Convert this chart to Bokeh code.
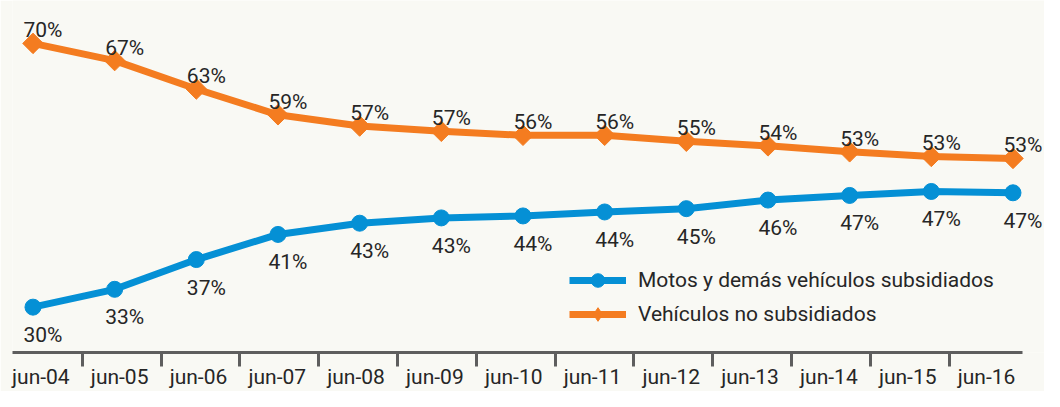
import math
from bokeh.plotting import figure
from bokeh.models import (ColumnDataSource, Range1d, LinearAxis, FixedTicker,
                          Legend, LegendItem)
from bokeh.core.properties import value
from bokeh.embed import file_html
from bokeh.resources import INLINE

# ---- data ----
months = ["jun-04", "jun-05", "jun-06", "jun-07", "jun-08", "jun-09", "jun-10",
          "jun-11", "jun-12", "jun-13", "jun-14", "jun-15", "jun-16"]
no_subsidiados = [69.9, 67.3, 63.0, 59.1, 57.4, 56.6, 56.0, 56.0, 55.1, 54.4, 53.5, 52.8, 52.5]
subsidiados = [30.0, 32.7, 37.2, 41.0, 42.7, 43.5, 43.8, 44.4, 44.9, 46.2, 46.9, 47.5, 47.3]
labels_no_sub = ["70%", "67%", "63%", "59%", "57%", "57%", "56%", "56%", "55%", "54%", "53%", "53%", "53%"]
labels_sub = ["30%", "33%", "37%", "41%", "43%", "43%", "44%", "44%", "45%", "46%", "47%", "47%", "47%"]
name_sub = "Motos y demás vehículos subsidiados"
name_no_sub = "Vehículos no subsidiados"

ORANGE = "#F47C20"
BLUE = "#0590D5"
TEXT = "#262626"
BG = "#F9F9F4"
FONT = "Roboto"

idx = list(range(len(months)))
src_o = ColumnDataSource(dict(x=idx, y=no_subsidiados, lab=labels_no_sub))
src_b = ColumnDataSource(dict(x=idx, y=subsidiados, lab=labels_sub))

p = figure(width=1044, height=391, output_backend="svg", toolbar_location=None,
           x_range=Range1d(-0.251, 12.386), y_range=Range1d(23.14, 76.39),
           x_axis_location=None, y_axis_location=None,
           min_border_left=12, min_border_right=0, min_border_top=0, min_border_bottom=0)
p.background_fill_color = BG
p.border_fill_color = BG
p.outline_line_color = None
p.xgrid.visible = False
p.ygrid.visible = False

# category axis (labels centred, separators between)
n = len(months)
p.extra_x_ranges = {"ax": Range1d(-0.360, 12.736)}
ax = LinearAxis(x_range_name="ax",
                ticker=FixedTicker(ticks=idx, minor_ticks=[i + 0.525 for i in range(n - 1)]),
                major_label_overrides={i: m for i, m in enumerate(months)},
                bounds=(-0.360, 12.457))
ax.axis_line_color = "#5E5E5E"
ax.axis_line_width = 3
ax.major_tick_line_color = None
ax.major_tick_out = 13
ax.major_tick_in = 0
ax.minor_tick_line_color = "#5E5E5E"
ax.minor_tick_line_width = 3
ax.minor_tick_out = 14
ax.minor_tick_in = 0
ax.major_label_standoff = -2
ax.major_label_text_font = FONT
ax.major_label_text_font_size = "21px"
ax.major_label_text_color = TEXT
p.add_layout(ax, "below")

# lines + markers
lb = p.line("x", "y", source=src_b, line_color=BLUE, line_width=7)
sb = p.scatter("x", "y", source=src_b, marker="circle", size=16,
               fill_color=BLUE, line_color=BLUE)
lo = p.line("x", "y", source=src_o, line_color=ORANGE, line_width=7)
so = p.scatter("x", "y", source=src_o, marker="square", size=14.5, angle=math.pi / 4,
               fill_color=ORANGE, line_color=ORANGE)
# legend-only diamond (NaN position, never drawn in plot)
dummy = p.scatter(x=[float("nan")], y=[float("nan")], marker="diamond", size=14,
                  fill_color=ORANGE, line_color=ORANGE)

# data labels
p.text("x", "y", text="lab", source=src_o, x_offset=10, y_offset=-13,
       text_align="center", text_baseline="alphabetic",
       text_font=value(FONT), text_font_size="21px", text_color=TEXT)
p.text("x", "y", text="lab", source=src_b, x_offset=10, y_offset=28,
       text_align="center", text_baseline="alphabetic",
       text_font=value(FONT), text_font_size="21px", text_color=TEXT)

legend = Legend(items=[LegendItem(label=name_sub, renderers=[lb, sb]),
                       LegendItem(label=name_no_sub, renderers=[lo, dummy])],
                location=(557, 21), orientation="vertical")
legend.glyph_width = 57
legend.glyph_height = 34
legend.spacing = 0
legend.padding = 0
legend.margin = 0
legend.label_standoff = 12
legend.label_text_font = FONT
legend.label_text_font_size = "21px"
legend.label_text_color = TEXT
legend.border_line_color = None
legend.background_fill_alpha = 0
p.add_layout(legend, "center")

open("out.html", "w").write(file_html(p, INLINE))
